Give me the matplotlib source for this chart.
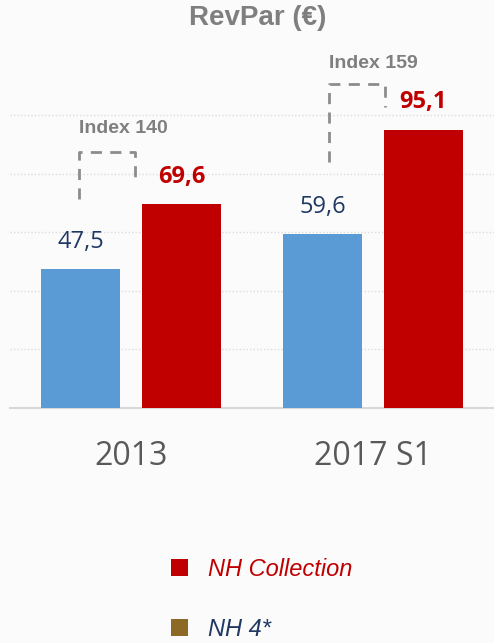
import matplotlib.pyplot as plt
from matplotlib.patches import Patch
import numpy as np

# data
periods = ["2013", "2017 S1"]
nh4 = [47.5, 59.6]
nh_collection = [69.6, 95.1]
nh4_labels = ["47,5", "59,6"]
coll_labels = ["69,6", "95,1"]
index_labels = ["Index 140", "Index 159"]

blue = "#5B9BD5"
red = "#C00000"
brown = "#8C6A26"
navy = "#1F3864"
gray = "#7F7F7F"
bg = "#FBFBFB"

fig = plt.figure(figsize=(4.94, 6.43), dpi=100, facecolor=bg)
ax = fig.add_axes([10 / 494, (643 - 408) / 643, 484 / 494, 368 / 643], facecolor=bg)

x = np.arange(len(periods))
w = 0.3276
off = 0.208
ax.bar(x - off, nh4, w, color=blue, zorder=3)
ax.bar(x + off, nh_collection, w, color=red, zorder=3)

ax.set_xlim(-0.5, 1.5)
ax.set_ylim(0, 125.8)
ax.set_yticks([20, 40, 60, 80, 100])
ax.yaxis.grid(True, linestyle=(0, (1, 1.5)), color="#DCDCDC", linewidth=1, zorder=0)
ax.tick_params(axis="y", length=0, labelleft=False)
ax.tick_params(axis="x", length=0, pad=23, labelsize=23, labelcolor="#595959")
ax.set_xticks(x)
ax.set_xticklabels(periods, fontfamily="Open Sans")
for s in ["top", "left", "right"]:
    ax.spines[s].set_visible(False)
ax.spines["bottom"].set_color("#D9D9D9")
ax.spines["bottom"].set_linewidth(1.5)

# value labels
for xi, v, lab in zip(x - off, nh4, nh4_labels):
    ax.annotate(lab, (xi, v), xytext=(0, 19.5), textcoords="offset points",
                ha="center", va="center", fontsize=17, color=navy, fontfamily="Open Sans")
for xi, v, lab in zip(x + off, nh_collection, coll_labels):
    ax.annotate(lab, (xi, v), xytext=(0, 20), textcoords="offset points",
                ha="center", va="center", fontsize=17, color=red, fontweight="bold",
                fontfamily="Open Sans")

# index brackets (dashed): x points, y points, label lift in points
brackets = [
    ([-0.2147, -0.2147, 0.0173, 0.0173], [71.3, 87.6, 87.6, 78.2], 17),
    ([0.8167, 0.8167, 1.050, 1.050], [84.2, 110.9, 110.9, 103.0], 14.5),
]
for (bx, by, lift), lab in zip(brackets, index_labels):
    ax.plot(bx, by, color="#8C8C8C", linewidth=2, linestyle=(0, (4, 3)), zorder=4)
    ax.annotate(lab, ((bx[0] + bx[2]) / 2, by[1]), xytext=(12, lift),
                textcoords="offset points", ha="center", va="center",
                fontsize=14, fontweight="bold", color=gray, fontfamily="Liberation Sans")

fig.text(257.5 / 494, 1 - 18 / 643, "RevPar (€)", ha="center", va="center",
         fontsize=20, fontweight="bold", color=gray, fontfamily="Liberation Sans")

handles = [Patch(facecolor=red), Patch(facecolor=brown)]
leg = fig.legend(handles, ["NH Collection", "NH 4*"], loc="upper left",
                 bbox_to_anchor=(171 / 494, 1 - 558 / 643), frameon=False,
                 prop={"family": "Liberation Sans", "style": "italic", "size": 17},
                 handlelength=0.72, handleheight=0.72, handletextpad=0.86,
                 labelspacing=1.55, borderpad=0, borderaxespad=0)
for t, c in zip(leg.get_texts(), [red, navy]):
    t.set_color(c)

fig.savefig("out.png", dpi=100, facecolor=bg)
